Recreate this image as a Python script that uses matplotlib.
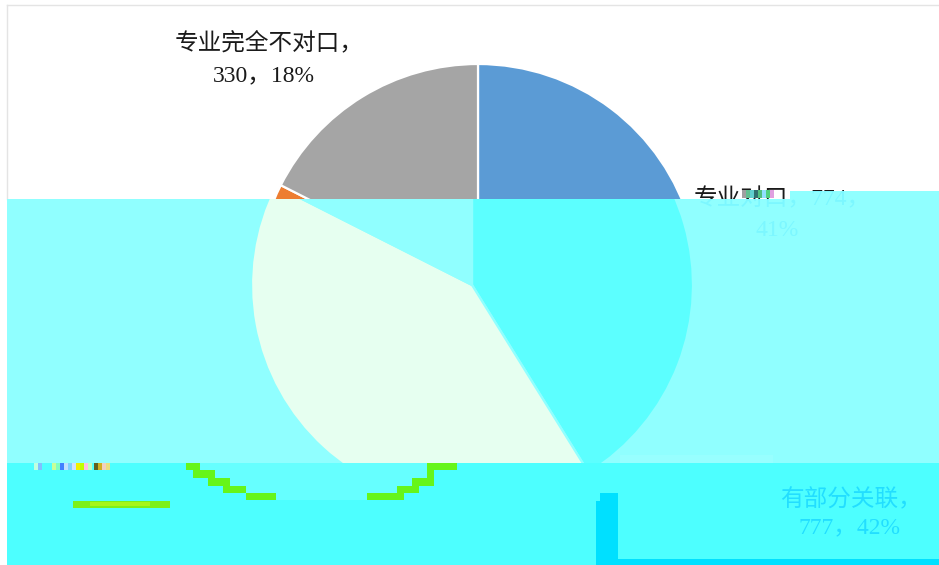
"""
Pie chart of how well jobs fit the graduates' majors, printed through banded colour layers
"""
import matplotlib
matplotlib.use('Agg')
import matplotlib.pyplot as plt
from matplotlib.patches import Rectangle, Polygon

FONT = ['Liberation Serif', 'Noto Sans CJK SC', 'DejaVu Sans']

categories = ['专业对口', '有部分关联', '专业完全不对口']
counts = [774, 777, 330]
shares = ['41%', '42%', '18%']

top_colors = ['#5B9BD5', '#ED7D31', '#A5A5A5']
mid_colors = ['#5CFFFF', '#E6FFF0', '#90FFFF']

# colour blocks of the lower band: x0, x1, y0, y1
step_rows = [
    (186, 200, 463, 470), (193, 215, 470, 478), (208, 230, 478, 486),
    (223, 246, 486, 493), (246, 276, 493, 500),
    (367, 404, 493, 500), (397, 419, 486, 493), (412, 434, 478, 486),
    (427, 434, 470, 478), (427, 457, 463, 470),
]
pale_rows = [
    (200, 427, 463, 470), (215, 427, 470, 478), (230, 412, 478, 486),
    (246, 397, 486, 493), (276, 367, 493, 500),
]
dark_blocks = [(600, 618, 493, 565), (596, 600, 501, 565), (618, 939, 559, 565)]

# speckled strip at the left of the lower band: x position, colour
speckle_x = [34, 38, 52, 56, 60, 64, 68, 72, 76, 80, 84, 88, 94, 98, 102, 106]
speckle_colors = ['#C0FFE0', '#80C0FF', '#C8FF99', '#80FFC0', '#4080FF', '#C0E0FF',
                  '#80D0FF', '#D0E0FF', '#F0F000', '#C0FF00', '#FFC0E0', '#C0FFC0',
                  '#606020', '#D0B020', '#F0D0C0', '#E8E080']
noise_x = [742, 746, 750, 754, 758, 762, 766, 770]
noise_colors = ['#A0A0A0', '#60C090', '#60D0D0', '#307070', '#50C080', '#90E0FF',
                '#50D080', '#E0A0E0']

WIDTH = 939
HEIGHT = 565


def add_block(ax, x0, x1, y0, y1, color, z):
    ax.add_patch(Rectangle((x0, y0), x1 - x0, y1 - y0, facecolor=color, edgecolor='none', zorder=z))


def add_pie(ax, center, colors, edge, clip, z):
    wedges, _ = ax.pie(counts, colors=colors, center=center, radius=221, startangle=270,
                       counterclock=True, frame=True,
                       wedgeprops={'edgecolor': edge, 'linewidth': 1.6})
    for w in wedges:
        w.set_zorder(z)
        # pie turns clipping off on its wedges
        w.set_clip_on(True)
        w.set_clip_path(clip)


def add_label(ax, x, y, text, color, z, clip=None):
    t = ax.text(x, y, text, ha='center', va='center', fontsize=17, color=color,
                family=FONT, zorder=z)
    if clip is not None:
        t.set_clip_path(clip)
        t.set_clip_on(True)


fig = plt.figure(figsize=(WIDTH / 100, HEIGHT / 100), dpi=100)
fig.patch.set_facecolor('white')
ax = fig.add_axes([0, 0, 1, 1])

# clip regions for the upper and middle bands
top_clip = Rectangle((7, 5), WIDTH - 7, 194, transform=ax.transData)
mid_clip = Rectangle((7, 199), WIDTH - 7, 264, transform=ax.transData)
step_clip = Rectangle((790, 191), WIDTH - 790, 8, transform=ax.transData)

# frame of the chart area
ax.plot([7, WIDTH], [5, 5], color='#E4E4E4', lw=1, zorder=1)
ax.plot([7, 7], [5, 199], color='#E4E4E4', lw=1, zorder=1)

# upper band keeps the original colours
add_pie(ax, (478, 285), top_colors, 'white', top_clip, 2)
add_label(ax, 269, 44, f'{categories[2]}，', '#1A1A1A', 3)
add_label(ax, 264, 76, f'{counts[2]}，{shares[2]}', '#1A1A1A', 3)
add_label(ax, 782, 199, f'{categories[0]}，{counts[0]}，', '#1A1A1A', 3)

# middle band
ax.add_patch(Polygon([(7, 199), (790, 199), (790, 191), (WIDTH, 191), (WIDTH, 463), (7, 463)],
                     closed=True, facecolor='#90FFFF', edgecolor='none', zorder=4))
add_pie(ax, (472, 285), mid_colors, '#90FFFF', mid_clip, 5)
add_block(ax, 620, 773, 455, 463, '#98FFFF', 5)
add_label(ax, 782, 199, f'{categories[0]}，{counts[0]}，', '#7CF7FF', 6, mid_clip)
add_label(ax, 782, 199, f'{categories[0]}，{counts[0]}，', '#7CF7FF', 6, step_clip)
add_label(ax, 777, 230, shares[0], '#7CF7FF', 6, mid_clip)

# lower band
add_block(ax, 7, WIDTH, 463, HEIGHT, '#4DFFFF', 7)
for x0, x1, y0, y1 in pale_rows:
    add_block(ax, x0, x1, y0, y1, '#66FFFF', 8)
for x0, x1, y0, y1 in step_rows:
    add_block(ax, x0, x1, y0, y1, '#66F51A', 9)
add_block(ax, 73, 170, 501, 508, '#7CF01A', 9)
add_block(ax, 90, 150, 502, 506, '#A6F51A', 9)
for x0, x1, y0, y1 in dark_blocks:
    add_block(ax, x0, x1, y0, y1, '#00E0FF', 8)
add_label(ax, 851, 500, f'{categories[1]}，', '#22DEFF', 10)
add_label(ax, 850, 528, f'{counts[1]}，{shares[1]}', '#22DEFF', 10)

# speckles left over in the bands
for x, c in zip(speckle_x, speckle_colors):
    add_block(ax, x, x + 4, 463, 470, c, 11)
for x, c in zip(noise_x, noise_colors):
    add_block(ax, x, x + 4, 190, 198, c, 11)

ax.set_xlim(0, WIDTH)
ax.set_ylim(HEIGHT, 0)
ax.set_xticks([])
ax.set_yticks([])
for spine in ax.spines.values():
    spine.set_visible(False)
ax.set_facecolor('white')

fig.savefig('out.png', dpi=100, facecolor='white')
plt.close(fig)
